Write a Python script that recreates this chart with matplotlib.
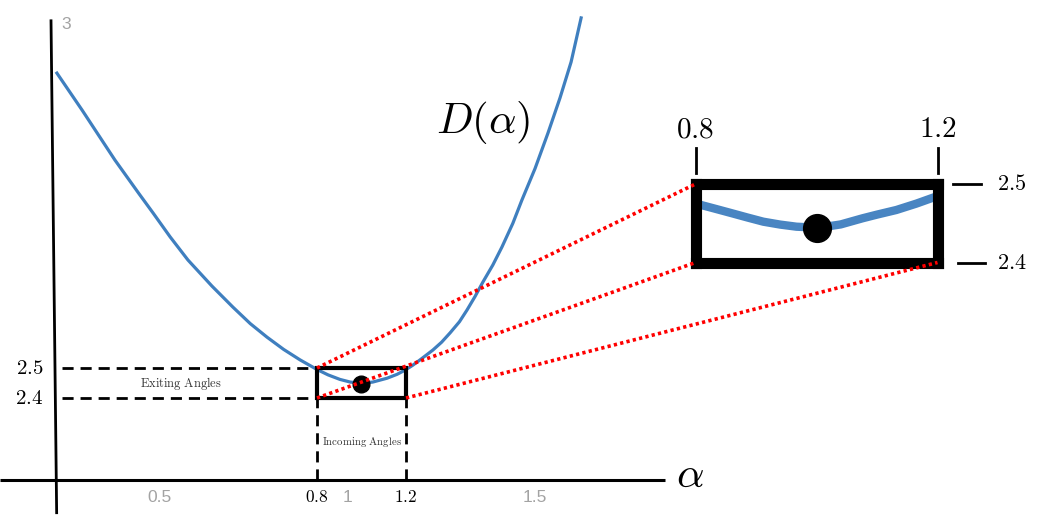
import matplotlib.pyplot as plt
from matplotlib.patches import Rectangle, ConnectionPatch
from matplotlib.transforms import blended_transform_factory

plt.rcParams['mathtext.fontset'] = 'cm'

# D(alpha)
alpha = [-0.369, -0.256, -0.108, 0.000, 0.063, 0.140, 0.220, 0.328, 0.422, 0.500,
         0.575, 0.650, 0.724, 0.800, 0.850, 0.903, 0.950, 1.002, 1.050, 1.115,
         1.160, 1.196, 1.230, 1.263, 1.321, 1.360, 1.398, 1.440, 1.474, 1.510,
         1.546, 1.590, 1.631, 1.680, 1.721, 1.780, 1.838, 1.892, 1.942, 1.987]
D = [3.483, 3.360, 3.193, 3.081, 3.017, 2.937, 2.860, 2.773, 2.703, 2.648,
     2.603, 2.562, 2.527, 2.495, 2.477, 2.462, 2.453, 2.450, 2.453, 2.466,
     2.479, 2.493, 2.509, 2.527, 2.560, 2.586, 2.617, 2.654, 2.693, 2.738,
     2.787, 2.843, 2.903, 2.982, 3.060, 3.165, 3.283, 3.400, 3.520, 3.667]

# zoomed view of the same curve
zoom_alpha = [0.800, 0.809, 0.830, 0.857, 0.885, 0.912, 0.940, 0.967, 1.004, 1.040,
              1.076, 1.100, 1.132, 1.165, 1.197, 1.200]
zoom_D = [2.4750, 2.4733, 2.4690, 2.4634, 2.4575, 2.4520, 2.4483, 2.4456, 2.4443, 2.4485,
          2.4563, 2.4610, 2.4669, 2.4750, 2.4838, 2.4850]

# the minimum and the window around it
min_alpha, min_D = 1.0, 2.447
win_alpha = [0.8, 1.2]
win_D = [2.4, 2.5]
win_alpha_labels = ['0.8', '1.2']
win_D_labels = ['2.5', '2.4']

# grey ticks of the underlying plot
plot_xticks = [0.5, 1, 1.5]
plot_ytick = 3

blue = '#3f7fbf'
grey = '#a3a3a3'

fig = plt.figure(figsize=(10.42, 5.24), dpi=100)
ax = fig.add_axes([0, 0, 1, 1])
ax.set_xlim(-0.6247, 4.0584)
ax.set_ylim(1.98, 3.7267)
ax.axis('off')

# hand drawn axes
axis_y = 2.128
ax.plot([-0.6247, 2.364], [axis_y, axis_y], color='black', lw=2.2, solid_capstyle='butt')
ax.plot([-0.3955, -0.370], [3.662, 2.013], color='black', lw=2.0, solid_capstyle='butt')
ax.text(2.476, 2.143, r'$\alpha$', fontsize=31, ha='center', va='center')

# grey tick labels (different scale from the annotations)
def plot_x(g):
    return 0.0899 + (g - 0.5) * 1.69

for t in plot_xticks:
    ax.text(plot_x(t), 2.07, f'{t:g}', color=grey, fontsize=12.5,
            ha='center', va='center', family='Liberation Sans')
ax.text(-0.328, 3.645, f'{plot_ytick}', color=grey, fontsize=12.5,
        ha='center', va='center', family='Liberation Sans')

# curve
ax.plot(alpha, D, color=blue, lw=2.3, zorder=2, solid_joinstyle='round')
ax.text(1.546, 3.317, r'$D(\alpha)$', fontsize=31, ha='center', va='center')

# window + guides
ax.add_patch(Rectangle((win_alpha[0], win_D[0]), win_alpha[1] - win_alpha[0],
                       win_D[1] - win_D[0], fill=False, lw=3, color='black', zorder=3))
ax.plot(min_alpha, min_D, 'o', color='black', ms=12, zorder=4)

dash = (0, (4, 2.5))
for d in win_D:
    ax.plot([-0.346, win_alpha[0]], [d, d], color='black', lw=2, linestyle=dash)
for a in win_alpha:
    ax.plot([a, a], [axis_y, win_D[0]], color='black', lw=2, linestyle=dash)

for a, lab in zip(win_alpha, win_alpha_labels):
    ax.text(a, 2.07, f'${lab}$', fontsize=12.5, ha='center', va='center')
for d, lab in zip(sorted(win_D, reverse=True), win_D_labels):
    ax.text(-0.431, d, f'${lab}$', fontsize=15, ha='right', va='center')

ax.text(0.189, 2.45, r'$\mathrm{Exiting\ Angles}$', fontsize=9, color='#333333',
        ha='center', va='center')
ax.text(1.0, 2.253, r'$\mathrm{Incoming\ Angles}$', fontsize=7.8, color='#333333',
        ha='center', va='center')

# zoomed inset
W, H = 1042, 524
axins = fig.add_axes([695.5 / W, (H - 262.5) / H, 242 / W, 78.5 / H])
axins.set_xlim(*win_alpha)
axins.set_ylim(*win_D)
axins.set_xticks([])
axins.set_yticks([])
for s in axins.spines.values():
    s.set_linewidth(8)
    s.set_color('black')
axins.plot(zoom_alpha, zoom_D, color=blue, lw=6, alpha=0.95, solid_joinstyle='round')
axins.plot(min_alpha, 2.444, 'o', color='black', ms=20, zorder=4)

tx = blended_transform_factory(axins.transData, axins.transAxes)
for a, lab in zip(win_alpha, win_alpha_labels):
    axins.plot([a, a], [1.14, 1.46], color='black', lw=2, transform=tx, clip_on=False)
    axins.text(a, 1.70, f'${lab}$', fontsize=21, ha='center', va='center', transform=tx)
ty = blended_transform_factory(axins.transAxes, axins.transData)
for d, lab in zip(sorted(win_D, reverse=True), win_D_labels):
    off = 0.0 if d == win_D[1] else 0.02
    axins.plot([1.063 + off, 1.178 + off], [d, d], color='black', lw=2,
               transform=ty, clip_on=False)
    axins.text(1.308, d, f'${lab}$', fontsize=16, ha='center', va='center', transform=ty)

# red dotted connectors
dots = (0, (0.9, 0.9))
for (xa, ya), (xb, yb) in [((win_alpha[0], win_D[1]), (0, 1)),
                           ((win_alpha[0], win_D[0]), (0, 0)),
                           ((win_alpha[1], win_D[0]), (1, 0))]:
    con = ConnectionPatch(xyA=(xa, ya), coordsA=ax.transData,
                          xyB=(xb, yb), coordsB=axins.transAxes,
                          color='red', lw=2.6, linestyle=dots, capstyle='butt')
    fig.add_artist(con)

fig.savefig('out.png', dpi=100)
